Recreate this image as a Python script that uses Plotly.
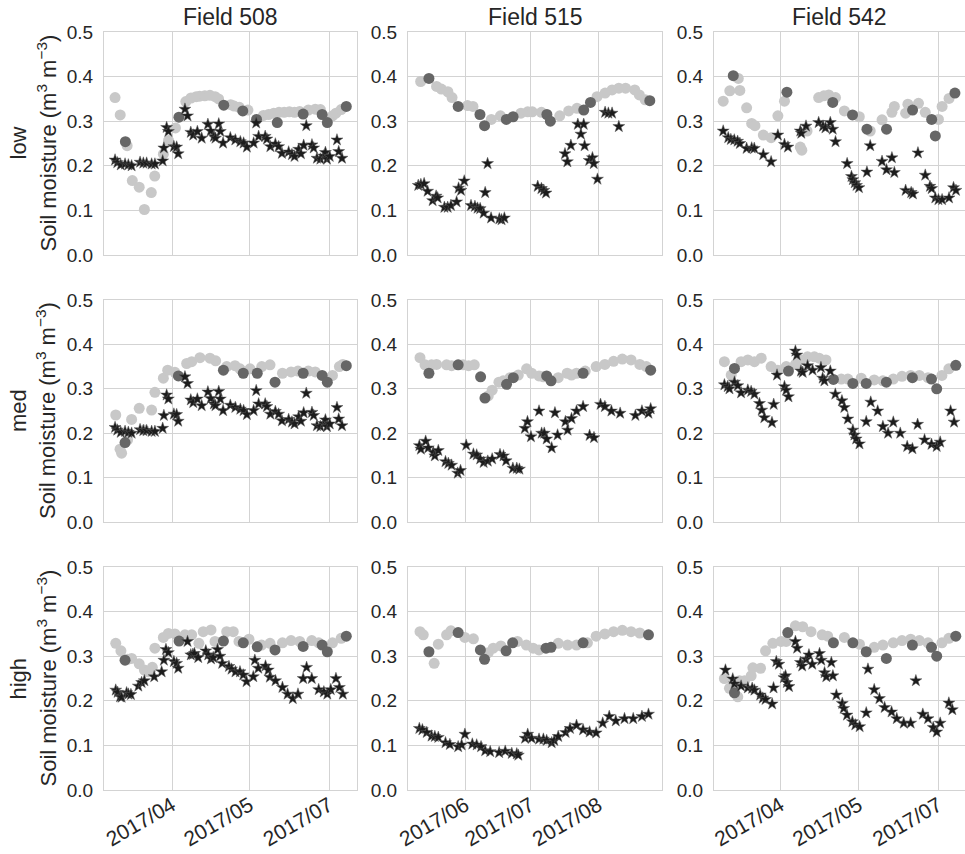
import numpy as np
import pandas as pd
import plotly.graph_objects as go

# ---------------------------------------------------------------------------
# Soil moisture series per field (columns) and landscape position (rows).
# Each entry is (day of year 2017, volumetric soil moisture m3/m3).
#   *_SENSOR : continuous in-situ record (light grey circles)
#   *_CAL    : calibration sampling dates (dark grey circles)
#   *_EST    : model estimate (black stars)
# ---------------------------------------------------------------------------
FIELDS = ["Field 508", "Field 515", "Field 542"]
LEVELS = ["low", "med", "high"]

# Field 508 -----------------------------------------------------------------
F508_EST_SHARED = [
    (58.0, 0.213), (59.3, 0.207), (61.3, 0.202), (63.8, 0.204), (65.7, 0.202), (67.6, 0.200),
    (72.5, 0.208), (74.4, 0.206), (76.3, 0.206), (79.2, 0.204), (81.1, 0.204), (85.6, 0.211),
    (86.3, 0.240), (87.9, 0.286), (88.9, 0.277), (92.1, 0.243), (93.7, 0.242), (94.6, 0.227),
    (98.5, 0.327), (100.0, 0.312), (101.9, 0.275), (103.3, 0.269), (105.7, 0.277), (108.2, 0.262),
    (111.8, 0.293), (113.4, 0.278), (115.3, 0.266), (116.2, 0.262), (118.1, 0.294), (119.0, 0.277),
    (120.6, 0.251), (124.8, 0.263), (127.7, 0.258), (130.6, 0.254), (132.5, 0.251), (134.4, 0.242),
    (138.3, 0.251), (139.8, 0.296), (141.2, 0.266), (145.0, 0.266), (146.0, 0.260), (148.0, 0.243),
    (150.9, 0.249), (152.8, 0.243), (154.7, 0.228), (158.6, 0.231), (160.5, 0.225), (162.0, 0.221),
    (164.4, 0.237), (165.7, 0.227), (167.3, 0.246), (168.8, 0.290), (172.1, 0.247), (173.1, 0.240),
    (175.0, 0.217), (177.0, 0.215), (178.9, 0.222), (179.9, 0.230), (180.8, 0.215), (182.4, 0.221),
    (186.6, 0.258), (187.6, 0.232), (189.5, 0.217),
]

F508_LOW_SENSOR = [
    (58, 0.353), (61, 0.314), (65, 0.245), (68, 0.167), (72, 0.152), (75, 0.102), (79, 0.140),
    (81, 0.177), (86, 0.226), (89, 0.257), (93, 0.285), (99, 0.344), (102, 0.352), (105, 0.355),
    (107, 0.356), (110, 0.357), (113, 0.358), (116, 0.355), (118, 0.350), (125, 0.337), (127, 0.334),
    (130, 0.331), (135, 0.325), (144, 0.313), (147, 0.315), (150, 0.318), (153, 0.320), (156, 0.320),
    (159, 0.321), (162, 0.320), (165, 0.322), (170, 0.325), (174, 0.327), (177, 0.326), (184, 0.312),
    (186, 0.318), (189, 0.326),
]
F508_LOW_CAL = [
    (64, 0.254), (95, 0.309), (121, 0.336), (132, 0.323), (140, 0.304), (152, 0.297), (167, 0.316),
    (178, 0.315), (181, 0.297), (192, 0.333),
]
F508_LOW_EST = F508_EST_SHARED

F508_MED_SENSOR = [
    (58.4, 0.241), (60.9, 0.164), (61.8, 0.155), (65.3, 0.185), (67.6, 0.231), (72.0, 0.256),
    (75.0, 0.207), (79.2, 0.252), (81.1, 0.292), (86.0, 0.324), (88.5, 0.342), (92.7, 0.337),
    (99.5, 0.357), (102.4, 0.361), (107.2, 0.370), (113.0, 0.369), (116.3, 0.363), (122.7, 0.350),
    (127.5, 0.352), (130.4, 0.345), (136.2, 0.345), (143.0, 0.350), (147.8, 0.354), (155.0, 0.335),
    (160.0, 0.338), (164.0, 0.340), (170.0, 0.340), (174.0, 0.338), (184.0, 0.330), (188.0, 0.350),
    (190.0, 0.355),
]
F508_MED_CAL = [
    (63.8, 0.179), (94.7, 0.329), (120.8, 0.342), (132.3, 0.335), (140.4, 0.335), (150.7, 0.315),
    (167.0, 0.335), (178.0, 0.330), (181.0, 0.315), (192.0, 0.352),
]
F508_MED_EST = F508_EST_SHARED

F508_HIGH_SENSOR = [
    (58.4, 0.329), (61.4, 0.312), (65.3, 0.293), (67.6, 0.295), (72.0, 0.283), (75.0, 0.269),
    (77.2, 0.265), (79.6, 0.275), (81.1, 0.318), (86.0, 0.342), (88.9, 0.351), (92.7, 0.350),
    (98.5, 0.348), (102.4, 0.348), (106.6, 0.329), (109.1, 0.355), (113.6, 0.359), (115.9, 0.333),
    (122.7, 0.355), (126.5, 0.355), (129.8, 0.333), (135.6, 0.338), (142.9, 0.325), (147.8, 0.329),
    (155.0, 0.330), (160.0, 0.335), (165.0, 0.333), (172.0, 0.335), (176.0, 0.330), (184.0, 0.330),
    (189.0, 0.340),
]
F508_HIGH_CAL = [
    (63.8, 0.291), (95.1, 0.334), (120.8, 0.334), (132.3, 0.330), (140.4, 0.321), (150.7, 0.314),
    (167.0, 0.322), (178.0, 0.325), (181.0, 0.310), (192.0, 0.345),
]
F508_HIGH_EST = [
    (58.4, 0.224), (59.5, 0.219), (60.9, 0.209), (61.8, 0.208), (64.7, 0.218), (65.7, 0.215),
    (67.2, 0.214), (71.5, 0.233), (73.4, 0.241), (75.0, 0.245), (80.7, 0.254), (85.0, 0.265),
    (86.3, 0.291), (87.5, 0.315), (88.9, 0.308), (92.1, 0.288), (93.7, 0.284), (94.6, 0.273),
    (100.0, 0.333), (101.9, 0.303), (103.1, 0.304), (104.0, 0.306), (106.2, 0.297), (110.6, 0.312),
    (112.0, 0.303), (113.6, 0.294), (114.9, 0.297), (117.4, 0.315), (118.8, 0.300), (120.1, 0.284),
    (124.0, 0.277), (125.5, 0.271), (127.8, 0.265), (130.4, 0.265), (132.3, 0.258), (134.2, 0.243),
    (138.1, 0.254), (139.0, 0.291), (141.0, 0.273), (145.2, 0.278), (146.8, 0.269), (147.7, 0.253),
    (151.0, 0.245), (155.0, 0.230), (158.0, 0.215), (161.0, 0.205), (164.0, 0.215), (167.0, 0.250),
    (169.0, 0.275), (172.0, 0.250), (176.0, 0.225), (179.0, 0.220), (181.0, 0.215), (183.0, 0.225),
    (186.0, 0.250), (188.0, 0.230), (190.0, 0.215),
]

# Field 515 -----------------------------------------------------------------
F515_LOW_SENSOR = [
    (131.5, 0.389), (138.8, 0.378), (141.0, 0.372), (144.0, 0.366), (145.9, 0.353), (153.0, 0.335),
    (155.5, 0.333), (163.9, 0.304), (168.1, 0.312), (177.5, 0.318), (180.6, 0.321), (182.7, 0.321),
    (186.9, 0.320), (195.3, 0.312), (199.4, 0.323), (203.2, 0.329), (212.4, 0.355), (216.1, 0.363),
    (219.3, 0.370), (222.4, 0.374), (225.5, 0.374), (229.7, 0.370), (231.8, 0.359), (234.5, 0.348),
]
F515_LOW_CAL = [
    (135.3, 0.396), (148.7, 0.333), (158.7, 0.315), (160.8, 0.290), (170.8, 0.304), (173.9, 0.310),
    (189.4, 0.315), (191.0, 0.300), (206.3, 0.325), (209.4, 0.342), (236.6, 0.346),
]
F515_LOW_EST = [
    (130.4, 0.156), (131.6, 0.158), (133.1, 0.160), (134.7, 0.143), (137.0, 0.122), (138.6, 0.132),
    (139.3, 0.128), (142.4, 0.107), (143.9, 0.107), (145.4, 0.111), (148.0, 0.119), (148.9, 0.150),
    (150.0, 0.145), (151.5, 0.166), (154.6, 0.111), (156.4, 0.109), (157.6, 0.105), (158.8, 0.104),
    (160.4, 0.094), (161.1, 0.140), (162.2, 0.205), (163.8, 0.083), (167.6, 0.081), (168.6, 0.079),
    (169.9, 0.083), (185.2, 0.154), (186.9, 0.149), (188.0, 0.145), (189.0, 0.139), (197.7, 0.227),
    (198.8, 0.209), (200.4, 0.246), (203.6, 0.293), (205.0, 0.271), (206.3, 0.293), (206.7, 0.245),
    (208.8, 0.212), (210.3, 0.218), (210.9, 0.205), (212.6, 0.170), (216.1, 0.320), (217.6, 0.318),
    (219.3, 0.318), (222.4, 0.288),
]

F515_MED_SENSOR = [
    (131.2, 0.370), (133.5, 0.354), (136.5, 0.354), (138.8, 0.355), (143.4, 0.354), (145.7, 0.352),
    (151.0, 0.354), (153.5, 0.352), (156.1, 0.354), (162.5, 0.284), (164.3, 0.297), (167.4, 0.315),
    (169.4, 0.318), (172.5, 0.325), (176.3, 0.331), (180.1, 0.345), (182.4, 0.335), (185.8, 0.329),
    (187.8, 0.327), (194.6, 0.325), (198.7, 0.335), (200.7, 0.331), (203.0, 0.335), (207.0, 0.340),
    (212.0, 0.350), (216.0, 0.355), (220.0, 0.362), (224.0, 0.367), (228.0, 0.365), (232.0, 0.355),
    (235.0, 0.350),
]
F515_MED_CAL = [
    (135.3, 0.335), (148.7, 0.354), (159.0, 0.327), (161.0, 0.279), (170.9, 0.310), (174.0, 0.325),
    (189.3, 0.329), (191.3, 0.318), (206.0, 0.335), (237.0, 0.342),
]
F515_MED_EST = [
    (130.9, 0.172), (131.6, 0.164), (133.8, 0.182), (135.0, 0.167), (137.3, 0.157), (138.0, 0.149),
    (139.6, 0.161), (142.9, 0.136), (144.2, 0.132), (145.7, 0.128), (148.5, 0.110), (149.8, 0.116),
    (152.4, 0.173), (155.7, 0.153), (157.2, 0.151), (158.8, 0.142), (160.4, 0.134), (162.3, 0.137),
    (164.3, 0.142), (167.9, 0.152), (169.5, 0.149), (170.7, 0.138), (173.8, 0.121), (175.6, 0.121),
    (176.8, 0.119), (179.3, 0.211), (180.5, 0.226), (182.1, 0.192), (185.8, 0.250), (187.0, 0.200),
    (188.2, 0.200), (189.3, 0.187), (191.6, 0.167), (193.1, 0.246), (194.3, 0.196), (197.9, 0.226),
    (198.9, 0.207), (200.7, 0.233), (203.0, 0.250), (206.0, 0.260), (209.0, 0.195), (211.0, 0.190),
    (214.0, 0.265), (216.0, 0.260), (219.0, 0.250), (223.0, 0.245), (230.0, 0.240), (233.0, 0.250),
    (236.0, 0.245), (237.0, 0.255),
]

F515_HIGH_SENSOR = [
    (131.2, 0.355), (132.7, 0.348), (137.7, 0.284), (139.6, 0.327), (143.4, 0.348), (145.4, 0.357),
    (151.8, 0.342), (155.7, 0.339), (162.5, 0.308), (164.8, 0.318), (168.3, 0.323), (175.9, 0.333),
    (180.0, 0.325), (183.1, 0.318), (185.8, 0.314), (194.6, 0.329), (198.9, 0.325), (203.0, 0.325),
    (208.0, 0.330), (212.0, 0.345), (216.0, 0.350), (220.0, 0.355), (224.0, 0.358), (228.0, 0.355),
    (232.0, 0.352),
]
F515_HIGH_CAL = [
    (135.3, 0.310), (148.7, 0.353), (158.9, 0.314), (160.8, 0.293), (170.7, 0.312), (173.7, 0.330),
    (189.0, 0.318), (191.3, 0.320), (206.0, 0.330), (236.0, 0.348),
]
F515_HIGH_EST = [
    (130.9, 0.138), (132.3, 0.135), (134.3, 0.129), (136.5, 0.121), (138.0, 0.120), (139.6, 0.118),
    (142.9, 0.106), (144.9, 0.102), (148.7, 0.097), (150.3, 0.101), (151.8, 0.125), (155.2, 0.103),
    (157.2, 0.101), (159.2, 0.097), (161.1, 0.088), (163.4, 0.086), (167.5, 0.084), (170.3, 0.087),
    (173.3, 0.082), (175.6, 0.081), (176.3, 0.078), (179.4, 0.116), (180.6, 0.125), (182.4, 0.116),
    (185.8, 0.114), (187.8, 0.114), (189.3, 0.111), (191.6, 0.106), (192.8, 0.111), (194.6, 0.120),
    (198.0, 0.129), (200.0, 0.138), (203.0, 0.145), (206.0, 0.135), (209.0, 0.130), (212.0, 0.128),
    (215.0, 0.150), (218.0, 0.165), (221.0, 0.155), (225.0, 0.160), (229.0, 0.160), (233.0, 0.165),
    (236.0, 0.170),
]

# Field 542 -----------------------------------------------------------------
F542_LOW_SENSOR = [
    (58.0, 0.345), (61.8, 0.368), (66.7, 0.396), (67.6, 0.369), (71.5, 0.330), (74.4, 0.295),
    (76.3, 0.290), (81.1, 0.269), (85.6, 0.263), (89.5, 0.312), (93.3, 0.345), (102.4, 0.242),
    (103.3, 0.235), (106.3, 0.278), (113.0, 0.353), (116.0, 0.357), (118.8, 0.359), (122.7, 0.353),
    (127.8, 0.323), (136.4, 0.310), (142.7, 0.278), (149.5, 0.303), (155.2, 0.320), (156.6, 0.333),
    (163.1, 0.318), (164.4, 0.338), (170.5, 0.340), (174.4, 0.320), (182.0, 0.304), (184.1, 0.333),
    (188.1, 0.351),
]
F542_LOW_CAL = [
    (63.8, 0.402), (94.7, 0.365), (121.1, 0.342), (132.5, 0.314), (140.8, 0.282), (152.1, 0.282),
    (167.1, 0.325), (178.1, 0.304), (180.2, 0.267), (191.5, 0.363),
]
F542_LOW_EST = [
    (58.0, 0.278), (60.9, 0.263), (62.4, 0.259), (64.4, 0.258), (66.3, 0.255), (67.6, 0.250),
    (71.5, 0.239), (74.4, 0.240), (75.9, 0.239), (81.1, 0.225), (85.6, 0.209), (89.5, 0.269),
    (93.3, 0.248), (95.3, 0.242), (102.4, 0.278), (103.0, 0.273), (105.7, 0.289), (113.0, 0.297),
    (115.5, 0.289), (116.9, 0.285), (119.7, 0.297), (121.1, 0.282), (122.7, 0.254), (129.4, 0.205),
    (131.9, 0.176), (132.7, 0.169), (133.8, 0.162), (134.8, 0.156), (136.2, 0.151), (140.8, 0.186),
    (142.7, 0.245), (149.5, 0.210), (152.1, 0.191), (155.2, 0.218), (156.6, 0.185), (163.1, 0.145),
    (166.3, 0.140), (167.3, 0.137), (170.2, 0.229), (174.4, 0.179), (177.1, 0.154), (178.1, 0.149),
    (180.2, 0.128), (182.0, 0.124), (184.1, 0.124), (188.1, 0.128), (190.7, 0.151), (192.1, 0.145),
]

F542_MED_SENSOR = [
    (58.7, 0.361), (62.6, 0.331), (68.3, 0.361), (72.2, 0.365), (76.0, 0.361), (79.9, 0.369),
    (85.6, 0.350), (89.5, 0.342), (94.3, 0.350), (99.6, 0.355), (102.8, 0.365), (106.6, 0.372),
    (110.5, 0.372), (113.3, 0.369), (117.2, 0.365), (126.0, 0.322), (129.8, 0.322), (137.5, 0.324),
    (145.0, 0.320), (150.0, 0.318), (156.0, 0.322), (161.0, 0.328), (166.0, 0.330), (171.0, 0.330),
    (176.0, 0.325), (184.0, 0.330), (188.0, 0.345),
]
F542_MED_CAL = [
    (64.5, 0.346), (95.6, 0.340), (121.5, 0.321), (132.7, 0.312), (140.4, 0.312), (152.0, 0.315),
    (167.0, 0.325), (178.0, 0.322), (181.0, 0.300), (192.0, 0.353),
]
F542_MED_EST = [
    (58.7, 0.309), (60.6, 0.305), (61.6, 0.300), (64.5, 0.315), (66.4, 0.307), (68.3, 0.291),
    (72.2, 0.297), (74.1, 0.294), (76.0, 0.288), (78.9, 0.267), (80.2, 0.252), (81.7, 0.235),
    (86.1, 0.224), (87.1, 0.265), (89.0, 0.331), (93.3, 0.305), (94.3, 0.297), (95.6, 0.282),
    (99.6, 0.385), (100.4, 0.376), (102.8, 0.340), (103.8, 0.337), (106.6, 0.352), (109.5, 0.342),
    (114.3, 0.348), (115.3, 0.324), (116.3, 0.318), (119.7, 0.340), (122.6, 0.288), (126.4, 0.273),
    (127.8, 0.258), (129.8, 0.232), (132.7, 0.207), (133.6, 0.196), (134.6, 0.187), (136.5, 0.176),
    (140.4, 0.226), (143.0, 0.270), (147.0, 0.250), (150.0, 0.215), (153.0, 0.200), (156.0, 0.225),
    (160.0, 0.200), (164.0, 0.170), (167.0, 0.165), (170.0, 0.220), (174.0, 0.185), (178.0, 0.175),
    (181.0, 0.170), (183.0, 0.180), (189.0, 0.250), (191.0, 0.225),
]

F542_HIGH_SENSOR = [
    (58.7, 0.250), (61.6, 0.228), (66.4, 0.209), (67.4, 0.245), (70.3, 0.245), (74.1, 0.256),
    (75.1, 0.274), (79.5, 0.273), (82.4, 0.312), (86.6, 0.329), (91.4, 0.333), (94.3, 0.333),
    (99.6, 0.368), (103.8, 0.366), (108.6, 0.355), (115.0, 0.348), (118.2, 0.345), (127.8, 0.342),
    (136.5, 0.327), (145.0, 0.320), (150.0, 0.325), (156.0, 0.330), (161.0, 0.335), (166.0, 0.338),
    (171.0, 0.335), (176.0, 0.330), (184.0, 0.330), (188.0, 0.340),
]
F542_HIGH_CAL = [
    (64.5, 0.218), (95.2, 0.353), (121.5, 0.330), (132.7, 0.330), (140.4, 0.310), (152.0, 0.295),
    (167.0, 0.325), (178.0, 0.320), (181.0, 0.300), (192.0, 0.345),
]
F542_HIGH_EST = [
    (59.3, 0.269), (63.5, 0.249), (64.5, 0.238), (68.3, 0.233), (72.2, 0.229), (74.7, 0.228),
    (76.0, 0.224), (79.3, 0.213), (80.8, 0.206), (82.4, 0.203), (86.2, 0.193), (87.0, 0.229),
    (88.6, 0.288), (90.1, 0.282), (93.0, 0.252), (93.9, 0.256), (94.7, 0.241), (95.9, 0.232),
    (99.6, 0.333), (100.6, 0.318), (102.5, 0.286), (103.5, 0.278), (105.8, 0.293), (107.4, 0.303),
    (109.3, 0.282), (113.5, 0.306), (114.5, 0.291), (116.4, 0.263), (117.4, 0.254), (120.3, 0.286),
    (121.2, 0.256), (123.2, 0.213), (126.6, 0.194), (127.4, 0.183), (129.3, 0.168), (132.4, 0.153),
    (134.1, 0.146), (136.6, 0.142), (140.4, 0.173), (141.4, 0.271), (145.0, 0.225), (148.0, 0.205),
    (151.0, 0.185), (155.0, 0.175), (158.0, 0.160), (162.0, 0.150), (166.0, 0.150), (169.0, 0.245),
    (173.0, 0.170), (176.0, 0.160), (179.0, 0.140), (181.0, 0.130), (183.0, 0.150), (188.0, 0.195),
    (190.0, 0.180),
]

PANELS = [
    [(F508_LOW_SENSOR, F508_LOW_CAL, F508_LOW_EST),
     (F515_LOW_SENSOR, F515_LOW_CAL, F515_LOW_EST),
     (F542_LOW_SENSOR, F542_LOW_CAL, F542_LOW_EST)],
    [(F508_MED_SENSOR, F508_MED_CAL, F508_MED_EST),
     (F515_MED_SENSOR, F515_MED_CAL, F515_MED_EST),
     (F542_MED_SENSOR, F542_MED_CAL, F542_MED_EST)],
    [(F508_HIGH_SENSOR, F508_HIGH_CAL, F508_HIGH_EST),
     (F515_HIGH_SENSOR, F515_HIGH_CAL, F515_HIGH_EST),
     (F542_HIGH_SENSOR, F542_HIGH_CAL, F542_HIGH_EST)],
]

# x extents (day of year) and date ticks per column
X_RANGES = [(51.6, 198.2), (125.7, 242.2), (52.7, 197.3)]
X_TICKS = [["2017-04-01", "2017-05-16", "2017-07-01"],
           ["2017-06-01", "2017-07-01", "2017-08-01"],
           ["2017-04-01", "2017-05-16", "2017-07-01"]]

W, H = 965, 854
COL_PX = [(104, 357), (408, 662), (714, 965)]
ROW_PX = [(32, 255), (300, 522), (567, 790)]

FONT = "Liberation Sans, Arial, sans-serif"
TEXT = "#262626"
GRID = "#d3d3d3"
SENSOR_COLOR = "#c8c8c8"
CAL_COLOR = "#666666"
EST_COLOR = "#1c1c1c"

BASE = pd.Timestamp("2017-01-01")


def to_dates(days):
    d = np.asarray(days, dtype=float)
    return BASE + pd.to_timedelta(d - 1.0, unit="D")


fig = go.Figure()
layout = {}

for r in range(3):
    for c in range(3):
        k = r * 3 + c + 1
        xa = "x" if k == 1 else f"x{k}"
        ya = "y" if k == 1 else f"y{k}"
        sensor, cal, est = PANELS[r][c]

        for series, kw in (
            (sensor, dict(symbol="circle", size=11, color=SENSOR_COLOR)),
            (cal, dict(symbol="circle", size=11, color=CAL_COLOR)),
            (est, dict(symbol="star", size=9, color=EST_COLOR,
                       line=dict(color="#5a5a5a", width=0.5))),
        ):
            days = [p[0] for p in series]
            vals = [p[1] for p in series]
            fig.add_trace(go.Scatter(
                x=to_dates(days), y=vals, mode="markers",
                marker=kw, xaxis=xa, yaxis=ya, showlegend=False,
                hoverinfo="skip"))

        x0, x1 = COL_PX[c]
        y0, y1 = ROW_PX[r]
        lo, hi = X_RANGES[c]
        rng = [str(to_dates([lo])[0]), str(to_dates([hi])[0])]
        bottom = r == 2
        xaxis = dict(
            domain=[x0 / W, x1 / W], anchor=ya, type="date", range=rng,
            tickvals=X_TICKS[c], showgrid=True,
            gridcolor=GRID, gridwidth=1.3, showline=True, linecolor=GRID,
            linewidth=1.3, mirror=True, zeroline=False,
        )
        if bottom:
            xaxis.update(tickformat="%Y/%m", tickangle=-30, ticks="",
                         ticklabelstandoff=-6,
                         tickfont=dict(family=FONT, size=21, color=TEXT))
        else:
            xaxis.update(showticklabels=False, ticks="")
        layout[f"xaxis{'' if k == 1 else k}"] = xaxis
        layout[f"yaxis{'' if k == 1 else k}"] = dict(
            domain=[1 - y1 / H, 1 - y0 / H], anchor=xa, range=[0, 0.5],
            tickvals=[0, 0.1, 0.2, 0.3, 0.4, 0.5], tickformat=".1f",
            ticks="outside", ticklen=6, tickcolor="rgba(0,0,0,0)",
            showgrid=True, gridcolor=GRID, gridwidth=1.3, showline=True,
            linecolor=GRID, linewidth=1.3, mirror=True, zeroline=False,
            tickfont=dict(family=FONT, size=19, color=TEXT),
        )

annotations = []
for c, name in enumerate(FIELDS):
    x0, x1 = COL_PX[c]
    annotations.append(dict(
        text=name, x=(x0 + x1) / 2 / W, y=1 - 17 / H, xref="paper", yref="paper",
        xanchor="center", yanchor="middle", showarrow=False,
        font=dict(family=FONT, size=23, color=TEXT)))

for r, lvl in enumerate(LEVELS):
    y0, y1 = ROW_PX[r]
    ym = 1 - (y0 + y1) / 2 / H
    annotations.append(dict(
        text=lvl, x=18 / W, y=ym, xref="paper", yref="paper", textangle=-90,
        xanchor="center", yanchor="middle", showarrow=False,
        font=dict(family=FONT, size=22, color=TEXT)))
    annotations.append(dict(
        text="Soil moisture (m<sup>3</sup> m<sup>\u22123</sup>)", x=46 / W, y=ym,
        xref="paper", yref="paper", textangle=-90, xanchor="center",
        yanchor="middle", showarrow=False,
        font=dict(family=FONT, size=22, color=TEXT)))

fig.update_layout(
    width=W, height=H, margin=dict(l=0, r=0, t=0, b=0, autoexpand=False),
    paper_bgcolor="white", plot_bgcolor="white", annotations=annotations,
    font=dict(family=FONT, color=TEXT), **layout)

fig.write_html("out.html")
